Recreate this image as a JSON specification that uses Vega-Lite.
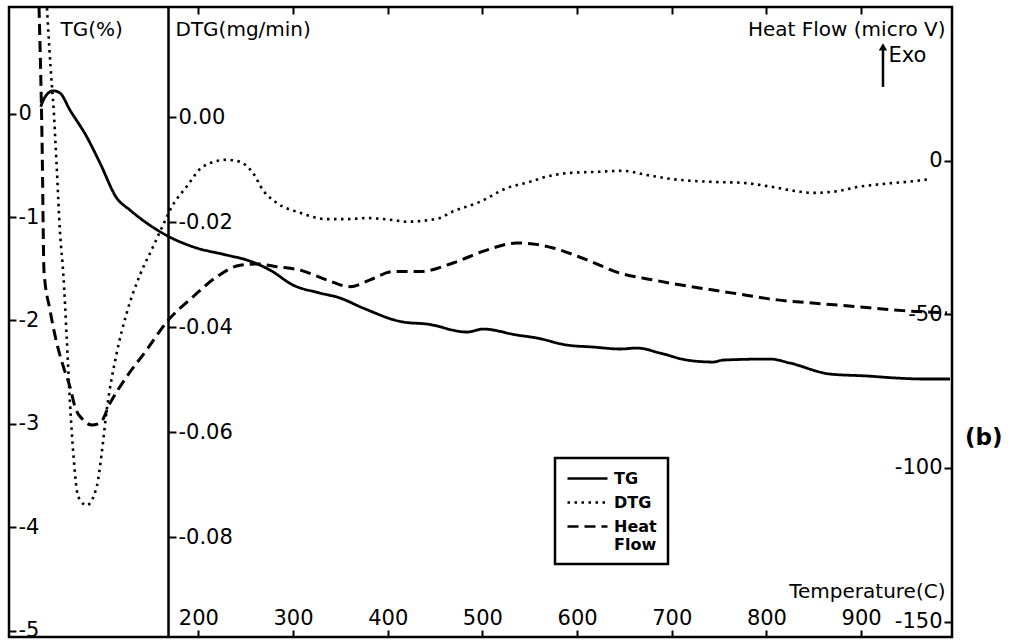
{
  "$schema": "https://vega.github.io/schema/vega-lite/v6.json",
  "width": 943,
  "height": 630,
  "autosize": {"type": "none"},
  "padding": {"left": 9, "top": 7, "right": 63, "bottom": 6},
  "background": "white",
  "config": {
    "view": {"stroke": "black", "strokeWidth": 2.5},
    "font": "DejaVu Sans",
    "axis": {
      "grid": false,
      "labelFont": "DejaVu Sans",
      "labelFontSize": 21,
      "labelColor": "black",
      "titleFont": "DejaVu Sans",
      "titleFontSize": 20,
      "titleFontWeight": "normal",
      "titleColor": "black",
      "tickColor": "black",
      "tickWidth": 2,
      "domainColor": "black",
      "labelFlush": false,
      "labelOverlap": false
    }
  },
  "datasets": {
    "tg": [
      {"T": 33.5, "TG": 0.066}, {"T": 38.0, "TG": 0.160}, {"T": 46.8, "TG": 0.220}, {"T": 53.9, "TG": 0.198},
      {"T": 64.4, "TG": 0.034}, {"T": 82.1, "TG": -0.224}, {"T": 96.1, "TG": -0.478}, {"T": 113.8, "TG": -0.817},
      {"T": 127.8, "TG": -0.933}, {"T": 145.4, "TG": -1.058}, {"T": 166.6, "TG": -1.179}, {"T": 194.3, "TG": -1.288},
      {"T": 229.9, "TG": -1.368}, {"T": 251.1, "TG": -1.416}, {"T": 275.7, "TG": -1.513}, {"T": 300.0, "TG": -1.658},
      {"T": 328.5, "TG": -1.735}, {"T": 349.6, "TG": -1.783}, {"T": 373.9, "TG": -1.880}, {"T": 416.1, "TG": -2.015},
      {"T": 441.5, "TG": -2.035}, {"T": 483.7, "TG": -2.112}, {"T": 500.6, "TG": -2.083}, {"T": 536.5, "TG": -2.141},
      {"T": 557.7, "TG": -2.170}, {"T": 589.4, "TG": -2.238}, {"T": 616.8, "TG": -2.257}, {"T": 645.4, "TG": -2.276},
      {"T": 663.3, "TG": -2.267}, {"T": 687.6, "TG": -2.315}, {"T": 716.1, "TG": -2.383}, {"T": 743.6, "TG": -2.402},
      {"T": 754.1, "TG": -2.383}, {"T": 803.8, "TG": -2.373}, {"T": 824.9, "TG": -2.412}, {"T": 867.1, "TG": -2.518},
      {"T": 906.2, "TG": -2.537}, {"T": 937.9, "TG": -2.557}, {"T": 965.4, "TG": -2.566}, {"T": 993.9, "TG": -2.566}
    ],
    "dtg": [
      {"T": 40.1, "DTG": 0.0208}, {"T": 45.1, "DTG": 0.0065}, {"T": 46.5, "DTG": 0.0033}, {"T": 50.4, "DTG": -0.0095},
      {"T": 53.9, "DTG": -0.0220}, {"T": 57.4, "DTG": -0.0300}, {"T": 60.9, "DTG": -0.0418}, {"T": 64.4, "DTG": -0.0544},
      {"T": 67.9, "DTG": -0.0640}, {"T": 73.2, "DTG": -0.0723}, {"T": 82.1, "DTG": -0.0739}, {"T": 92.6, "DTG": -0.0704},
      {"T": 97.9, "DTG": -0.0640}, {"T": 103.2, "DTG": -0.0558}, {"T": 113.8, "DTG": -0.0449}, {"T": 124.3, "DTG": -0.0373},
      {"T": 138.4, "DTG": -0.0300}, {"T": 152.1, "DTG": -0.0247}, {"T": 166.6, "DTG": -0.0190}, {"T": 170.0, "DTG": -0.0177},
      {"T": 187.7, "DTG": -0.0132}, {"T": 204.9, "DTG": -0.0094}, {"T": 229.9, "DTG": -0.0081}, {"T": 244.0, "DTG": -0.0085},
      {"T": 257.7, "DTG": -0.0106}, {"T": 268.3, "DTG": -0.0139}, {"T": 282.7, "DTG": -0.0163}, {"T": 307.4, "DTG": -0.0182},
      {"T": 335.6, "DTG": -0.0194}, {"T": 356.7, "DTG": -0.0194}, {"T": 377.8, "DTG": -0.0192}, {"T": 405.6, "DTG": -0.0196},
      {"T": 420.0, "DTG": -0.0199}, {"T": 455.2, "DTG": -0.0192}, {"T": 465.8, "DTG": -0.0182}, {"T": 497.5, "DTG": -0.0161},
      {"T": 525.7, "DTG": -0.0135}, {"T": 550.3, "DTG": -0.0123}, {"T": 567.9, "DTG": -0.0113}, {"T": 592.5, "DTG": -0.0106},
      {"T": 620.7, "DTG": -0.0104}, {"T": 648.5, "DTG": -0.0102}, {"T": 673.5, "DTG": -0.0110}, {"T": 701.3, "DTG": -0.0118},
      {"T": 740.4, "DTG": -0.0123}, {"T": 775.3, "DTG": -0.0125}, {"T": 803.8, "DTG": -0.0132}, {"T": 832.3, "DTG": -0.0141},
      {"T": 849.2, "DTG": -0.0144}, {"T": 874.5, "DTG": -0.0141}, {"T": 895.7, "DTG": -0.0133}, {"T": 923.1, "DTG": -0.0127},
      {"T": 948.5, "DTG": -0.0123}, {"T": 972.8, "DTG": -0.0118}
    ],
    "hf": [
      {"T": 31.7, "HF": 50.0}, {"T": 34.9, "HF": 6.7}, {"T": 37.0, "HF": -36.1}, {"T": 43.3, "HF": -48.6},
      {"T": 50.4, "HF": -59.3}, {"T": 57.4, "HF": -67.0}, {"T": 64.4, "HF": -73.6}, {"T": 69.7, "HF": -80.1},
      {"T": 78.5, "HF": -84.4}, {"T": 87.3, "HF": -86.0}, {"T": 96.1, "HF": -85.4}, {"T": 106.7, "HF": -78.9},
      {"T": 124.3, "HF": -70.3}, {"T": 145.4, "HF": -61.6}, {"T": 166.6, "HF": -52.5}, {"T": 194.3, "HF": -44.3},
      {"T": 219.4, "HF": -37.8}, {"T": 244.0, "HF": -34.0}, {"T": 261.6, "HF": -33.6}, {"T": 282.7, "HF": -34.5},
      {"T": 307.4, "HF": -35.6}, {"T": 335.6, "HF": -38.8}, {"T": 360.2, "HF": -41.0}, {"T": 381.3, "HF": -38.8},
      {"T": 405.6, "HF": -36.1}, {"T": 434.1, "HF": -36.1}, {"T": 469.0, "HF": -33.3}, {"T": 504.5, "HF": -29.1},
      {"T": 536.2, "HF": -26.8}, {"T": 553.4, "HF": -27.1}, {"T": 574.6, "HF": -28.4}, {"T": 610.5, "HF": -32.3},
      {"T": 645.4, "HF": -36.6}, {"T": 680.2, "HF": -38.8}, {"T": 716.1, "HF": -40.8}, {"T": 743.6, "HF": -42.1},
      {"T": 764.7, "HF": -43.1}, {"T": 811.2, "HF": -45.3}, {"T": 859.7, "HF": -46.6}, {"T": 906.2, "HF": -47.8},
      {"T": 944.2, "HF": -48.8}, {"T": 990.7, "HF": -49.5}
    ],
    "arrow": [{"T": 923.1, "HF": 24.0, "HF2": 36.0}],
    "head": [{"T": 923.1, "HF": 37.0}],
    "notes": [{"T": 929.0, "HF": 34.1, "label": "Exo"}],
    "panel": [{"T": 1009.7, "HF": -90.2, "label": "(b)"}]
  },
  "resolve": {"scale": {"y": "independent"}, "axis": {"x": "independent"}},
  "layer": [
    {
      "data": {"name": "tg"},
      "mark": {"type": "line", "color": "black", "strokeWidth": 2.8, "interpolate": "monotone"},
      "encoding": {
        "x": {
          "field": "T", "type": "quantitative",
          "scale": {"domain": [0, 996], "nice": false, "zero": false},
          "axis": {
            "orient": "bottom", "values": [200, 300, 400, 500, 600, 700, 800, 900],
            "tickSize": -7, "labelPadding": -2, "labelBaseline": "bottom", "domain": false,
            "title": "Temperature(C)", "titleX": 936, "titleY": -46, "titleAlign": "right", "titleBaseline": "middle"
          }
        },
        "y": {
          "field": "TG", "type": "quantitative",
          "scale": {"domain": [-5.06, 1.03], "nice": false, "zero": false},
          "axis": {
            "orient": "left", "values": [-5, -4, -3, -2, -1, 0],
            "labelExpr": "replace(datum.label, '−', '-')",
            "tickSize": -7, "labelPadding": -2, "labelAlign": "left", "labelBaseline": "middle", "domain": false,
            "title": "TG(%)", "titleAngle": 0, "titleX": 51, "titleY": 22, "titleAlign": "left", "titleBaseline": "middle"
          }
        },
        "strokeDash": {
          "datum": "TG", "type": "nominal",
          "scale": {"domain": ["TG", "DTG", "Heat Flow"], "range": [[1, 0], [2.5, 4.5], [11, 6]]},
          "legend": {
            "title": null, "orient": "none", "legendX": 546, "legendY": 451,
            "symbolType": "stroke", "symbolSize": 1600, "symbolStrokeWidth": 2.5, "symbolStrokeColor": "black",
            "clipHeight": 19,
            "labelFont": "DejaVu Sans", "labelFontSize": 16, "labelFontWeight": "bold", "labelColor": "black",
            "labelOffset": 5, "rowPadding": 5, "padding": 11, "strokeColor": "black", "fillColor": "white",
            "labelExpr": "datum.label == 'Heat Flow' ? ['Heat', 'Flow'] : datum.label",
            "encode": {"legend": {"update": {"strokeWidth": {"value": 2.5}}}}
          }
        }
      }
    },
    {
      "data": {"name": "dtg"},
      "mark": {"type": "line", "color": "black", "strokeWidth": 2.6, "interpolate": "monotone"},
      "encoding": {
        "x": {
          "field": "T", "type": "quantitative",
          "axis": {
            "orient": "top", "values": [200, 300, 400, 500, 600, 700, 800, 900],
            "tickSize": -7, "labels": false, "domain": false, "title": null
          }
        },
        "y": {
          "field": "DTG", "type": "quantitative",
          "scale": {"domain": [-0.099, 0.021], "nice": false, "zero": false},
          "axis": {
            "orient": "left", "offset": -159, "values": [-0.08, -0.06, -0.04, -0.02, 0],
            "labelExpr": "replace(format(datum.value, '.2f'), '−', '-')",
            "tickSize": -8, "labelPadding": -2, "labelAlign": "left", "labelBaseline": "middle",
            "domain": true, "domainWidth": 2.5,
            "title": "DTG(mg/min)", "titleAngle": 0, "titleX": 7, "titleY": 22, "titleAlign": "left", "titleBaseline": "middle"
          }
        },
        "strokeDash": {"datum": "DTG", "type": "nominal"}
      }
    },
    {
      "data": {"name": "hf"},
      "mark": {"type": "line", "color": "black", "strokeWidth": 3, "interpolate": "monotone"},
      "encoding": {
        "x": {"field": "T", "type": "quantitative", "axis": null},
        "y": {
          "field": "HF", "type": "quantitative",
          "scale": {"domain": [-155, 50], "nice": false, "zero": false},
          "axis": {
            "orient": "right", "values": [-150, -100, -50, 0],
            "labelExpr": "replace(datum.label, '−', '-')",
            "tickSize": -8, "labelPadding": -2, "labelAlign": "right", "labelBaseline": "middle", "domain": false,
            "title": "Heat Flow (micro V)", "titleAngle": 0, "titleX": -7, "titleY": 22, "titleAlign": "right", "titleBaseline": "middle"
          }
        },
        "strokeDash": {"datum": "Heat Flow", "type": "nominal"}
      }
    },
    {
      "layer": [
        {
          "data": {"name": "arrow"},
          "mark": {"type": "rule", "color": "black", "strokeWidth": 2.5},
          "encoding": {
            "x": {"field": "T", "type": "quantitative", "axis": null},
            "y": {"field": "HF", "type": "quantitative", "axis": null, "scale": {"domain": [-155, 50], "nice": false, "zero": false}},
            "y2": {"field": "HF2"}
          }
        },
        {
          "data": {"name": "head"},
          "mark": {"type": "point", "shape": "triangle-up", "filled": true, "color": "black", "size": 70, "opacity": 1},
          "encoding": {
            "x": {"field": "T", "type": "quantitative", "axis": null},
            "y": {"field": "HF", "type": "quantitative", "axis": null}
          }
        },
        {
          "data": {"name": "notes"},
          "mark": {"type": "text", "align": "left", "baseline": "middle", "font": "DejaVu Sans", "fontSize": 21, "color": "black"},
          "encoding": {
            "x": {"field": "T", "type": "quantitative", "axis": null},
            "y": {"field": "HF", "type": "quantitative", "axis": null},
            "text": {"field": "label"}
          }
        },
        {
          "data": {"name": "panel"},
          "mark": {"type": "text", "align": "left", "baseline": "middle", "font": "DejaVu Sans", "fontSize": 23, "fontWeight": "bold", "color": "black"},
          "encoding": {
            "x": {"field": "T", "type": "quantitative", "axis": null},
            "y": {"field": "HF", "type": "quantitative", "axis": null},
            "text": {"field": "label"}
          }
        }
      ]
    }
  ]
}
